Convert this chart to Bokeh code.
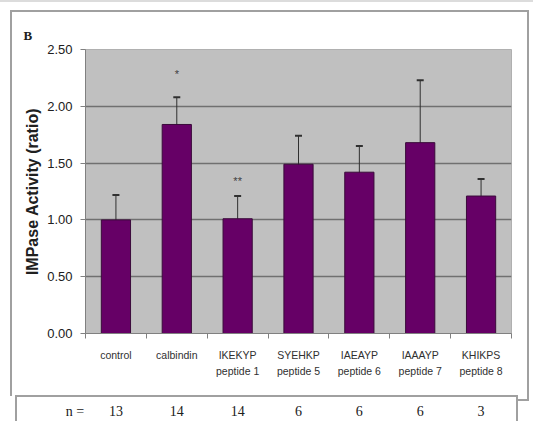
from bokeh.plotting import figure
from bokeh.models import (Range1d, FixedTicker, Whisker, ColumnDataSource, TeeHead,
                          LinearAxis)
from bokeh.core.properties import value
from bokeh.embed import file_html
from bokeh.resources import INLINE

# ---- data ----
categories = ["control", "calbindin", "IKEKYP\npeptide 1", "SYEHKP\npeptide 5",
              "IAEAYP\npeptide 6", "IAAAYP\npeptide 7", "KHIKPS\npeptide 8"]
activity = [1.00, 1.84, 1.01, 1.49, 1.42, 1.68, 1.21]
errors = [0.22, 0.24, 0.20, 0.25, 0.23, 0.55, 0.15]
sig_marks = ["", "*", "**", "", "", "", ""]
sig_y = [0, 2.28, 1.34, 0, 0, 0, 0]
n_label = "n ="
n_values = ["13", "14", "14", "6", "6", "6", "3"]
y_ticks = [0.0, 0.5, 1.0, 1.5, 2.0, 2.5]

ncat = len(categories)
xpos = [i + 0.5 for i in range(ncat)]
src = ColumnDataSource(dict(
    x=xpos, top=activity,
    upper=[a + e for a, e in zip(activity, errors)],
    lower=[a - e for a, e in zip(activity, errors)],
))

W, H = 533, 421
p = figure(width=W, height=H, output_backend="svg", toolbar_location=None,
           x_range=Range1d(0, ncat), y_range=Range1d(0, 2.5),
           min_border_left=85, min_border_right=22, min_border_top=49,
           min_border_bottom=88)

# decorative figure frame and "n =" table box (page background lines)
C = "#a0a0a0"
lines = [  # (x, y, w, h) in pixels
    (0, 0, 533, 2),
    (10, 10, 519, 2), (10, 10, 2, 386), (527, 10, 2, 391), (517, 399, 12, 2),
    (15, 395, 503, 2), (15, 395, 2, 26), (516, 395, 2, 26),
]
cols = ["#dcdcdc"] + [C] * (len(lines) - 1)
p.styles = {
    "background-color": "white",
    "background-image": ", ".join(f"linear-gradient({c},{c})" for c in cols),
    "background-position": ", ".join(f"{x}px {y}px" for x, y, w, h in lines),
    "background-size": ", ".join(f"{w}px {h}px" for x, y, w, h in lines),
    "background-repeat": "no-repeat",
}
p.border_fill_alpha = 0
p.background_fill_color = "#c0c0c0"
p.outline_line_color = "#b0b0b0"

p.title.text = "B"
p.title.align = "left"
p.title.offset = -62
p.title.standoff = 14
p.title.text_font = "Liberation Serif"
p.title.text_font_style = "bold"
p.title.text_font_size = "13px"
p.title.text_color = "#202020"

p.xgrid.grid_line_color = None
p.ygrid.grid_line_color = "#707070"
p.ygrid.grid_line_width = 1.6
p.ygrid.ticker = FixedTicker(ticks=y_ticks)

p.vbar(x="x", top="top", width=0.48, source=src, fill_color="#660066",
       line_color="#3a0a3a", line_width=1)

wh = Whisker(base="x", upper="upper", lower="lower", source=src,
             line_color="#303030", line_width=1,
             upper_head=TeeHead(size=7, line_color="#303030", line_width=2),
             lower_head=TeeHead(size=6, line_color="#303030", line_width=1))
p.add_layout(wh)

sx = [x for x, m in zip(xpos, sig_marks) if m]
sy = [y for y, m in zip(sig_y, sig_marks) if m]
st = [m for m in sig_marks if m]
p.text(x=sx, y=sy, text=st, text_align="center", text_baseline="middle",
       text_font=value("Liberation Sans"), text_font_size="11px", text_color="#404040")

xa = p.xaxis[0]
xa.ticker = FixedTicker(ticks=xpos, minor_ticks=list(range(ncat + 1)))
xa.major_label_overrides = {x: c for x, c in zip(xpos, categories)}
xa.major_tick_line_color = None
xa.minor_tick_line_color = "#808080"
xa.minor_tick_out = 5
xa.minor_tick_in = 0
xa.axis_line_color = "#808080"
xa.major_label_text_font = "Liberation Sans"
xa.major_label_text_font_size = "10.5px"
xa.major_label_text_color = "#303030"
xa.major_label_text_line_height = 1.4
xa.major_label_standoff = 9

# n row as a second axis below the categories
n_pad = "\u00a0" * 6
na = LinearAxis(ticker=FixedTicker(ticks=[0.0] + xpos),
                major_label_overrides={0.0: n_label + n_pad,
                                       **{x: n for x, n in zip(xpos, n_values)}})
na.axis_line_color = None
na.major_tick_line_color = None
na.minor_tick_line_color = None
na.major_label_text_font = "Liberation Serif"
na.major_label_text_font_size = "14px"
na.major_label_text_color = "#202020"
na.major_label_standoff = 17
p.add_layout(na, "below")

ya = p.yaxis[0]
ya.ticker = FixedTicker(ticks=y_ticks)
ya.major_label_overrides = {t: f"{t:.2f}" for t in y_ticks}
ya.minor_tick_line_color = None
ya.major_tick_line_color = "#808080"
ya.major_tick_out = 5
ya.major_tick_in = 0
ya.axis_line_color = "#808080"
ya.major_label_text_font = "Liberation Sans"
ya.major_label_text_font_size = "13px"
ya.major_label_text_color = "#202020"
ya.major_label_standoff = 8
ya.axis_label = "IMPase Activity (ratio)"
ya.axis_label_text_font = "Liberation Sans"
ya.axis_label_text_font_style = "bold"
ya.axis_label_text_font_size = "16px"
ya.axis_label_text_color = "#202020"
ya.axis_label_standoff = 3

open("out.html", "w").write(file_html(p, INLINE))
